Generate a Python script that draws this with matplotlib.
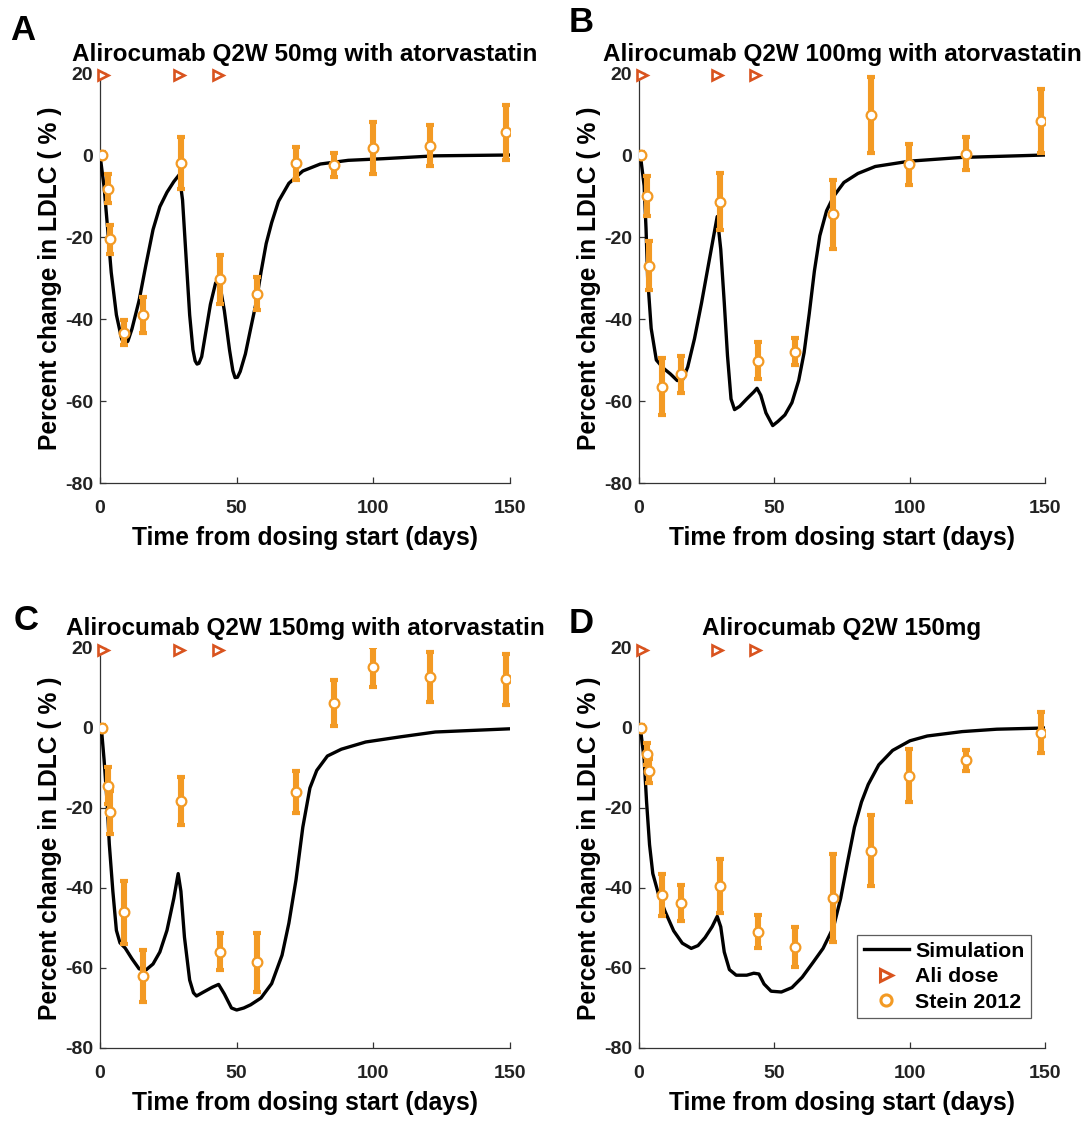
#!/usr/bin/env python3
"""
LDLC percent change after alirocumab Q2W dosing: simulation vs Stein 2012 data.
Writes out.png (4 panels, A-D).
"""
import matplotlib
matplotlib.use("Agg")
import matplotlib.pyplot as plt
from matplotlib.lines import Line2D

plt.rcParams["font.family"] = ["Liberation Sans", "DejaVu Sans"]
plt.rcParams["font.weight"] = "bold"
plt.rcParams["axes.labelweight"] = "bold"
plt.rcParams["axes.titleweight"] = "bold"
plt.rcParams["axes.unicode_minus"] = False

# ---- data ---------------------------------------------------------------
DOSE_DAYS = [1, 29, 43]
DOSE_LEVEL = [19.5, 19.5, 19.5]

OBS_DAYS = [0.6, 2.8, 3.8, 8.6, 15.7, 29.8, 43.8, 57.6, 71.8, 85.7, 99.7, 120.8, 148.6]

# panel A: 50 mg + atorvastatin
A_sim_t = [0, 1.5, 2.8, 4.1, 6, 7.9, 8.6, 9.2, 10.2, 11.7, 14.3, 16.8, 19.4, 21.9, 24.5,
           27, 29, 30.2, 31.5, 32.8, 34, 34.8, 35.5, 36.2, 37.2, 38.5, 40.4, 42.3, 43.6,
           45.5, 47.4, 48.6, 49.4, 50.3, 51.3, 53.2, 55.1, 57, 58.9, 60.8, 62.8, 65.3,
           69.1, 74.2, 80.6, 90.8, 103.6, 122.7, 150]
A_sim_v = [0, -7.8, -18, -28.6, -39, -44.8, -45.8, -46, -45.4, -42.4, -35.5, -26.8, -18.2,
           -12.6, -9.1, -6.5, -4.8, -11, -25, -39, -47.5, -50.2, -51, -50.8, -49.2, -44,
           -36.4, -31.2, -30.7, -38, -47.6, -52.6, -54.3, -54.2, -52.8, -48.5, -42.4,
           -36.4, -28.6, -21.6, -16.5, -11.3, -6.9, -3.9, -2.2, -1.3, -0.9, -0.2, 0]
A_obs = [0, -8.2, -20.6, -43.3, -39, -2, -30.3, -33.8, -2, -2.4, 1.7, 2.2, 5.6]
A_err = [0.8, 3.5, 3.5, 3, 4.3, 6.3, 6, 4, 4, 3, 6.3, 5, 6.7]

# panel B: 100 mg + atorvastatin
B_sim_t = [0.5, 1.9, 2.6, 3.2, 4.5, 6.4, 9, 11.6, 14.1, 16, 18, 20.5, 23.1, 25.7, 27.6,
           28.9, 30.2, 31.5, 32.7, 34, 35.3, 37.2, 39.8, 42.4, 43.6, 45, 46.9, 49.4, 51.3,
           53.9, 56.5, 59, 61, 62.9, 64.8, 66.8, 69.3, 71.9, 75.7, 80.9, 87.3, 100, 119, 150]
B_sim_v = [0, -7.5, -18, -30, -42.3, -50, -52, -53.4, -55, -55, -51.7, -44.8, -36.1, -26.6,
           -19.7, -15, -23, -36, -49, -59.5, -62.1, -61.3, -59.5, -57.8, -56.9, -58.6,
           -62.9, -66, -65, -63.4, -60.4, -55, -48.2, -38.7, -28.3, -19.7, -13.6, -10.1,
           -6.7, -4.5, -2.8, -1.5, -0.6, 0]
B_obs = [0, -10, -27, -56.5, -53.5, -11.4, -50.2, -48, -14.5, 9.8, -2.3, 0.3, 8.3]
B_err = [0.8, 4.8, 6, 7, 4.5, 7, 4.5, 3.3, 8.4, 9.3, 5, 4, 7.8]

# panel C: 150 mg + atorvastatin
C_sim_t = [0.5, 1.5, 2.6, 3.4, 4.7, 6, 7.3, 9.2, 11.7, 14.3, 16.8, 19.4, 21.9, 24.5, 27,
           28.6, 29.6, 30.9, 32.8, 34.2, 35.3, 37.9, 41.1, 43.4, 45.5, 48.1, 50, 52.6, 55.1,
           58.9, 62.8, 66.6, 69.1, 71.7, 74.2, 76.8, 79.3, 83.2, 88.3, 97.2, 110, 122.7, 150]
C_sim_v = [0, -8, -18.6, -29, -40.8, -50.6, -53.7, -55, -57.7, -60.2, -60.5, -59, -56,
           -50.6, -42.6, -36.4, -40.8, -52.3, -63, -66.2, -67, -66, -64.8, -64.1, -66.5,
           -70, -70.5, -70, -69.2, -67.5, -63.9, -56.8, -48.8, -38, -24.8, -15, -10.6, -7,
           -5.3, -3.5, -2.2, -1, -0.2]
C_obs = [0, -14.4, -21.1, -46.1, -62, -18.3, -55.9, -58.6, -16, 6.2, 15.3, 12.7, 12.2]
C_err = [0.8, 4.6, 5.3, 7.8, 6.4, 6, 4.6, 7.3, 5.3, 5.8, 5, 6.2, 6.4]

# panel D: 150 mg monotherapy
D_sim_t = [0.5, 1.9, 2.8, 3.9, 5.1, 7.1, 9.6, 12.8, 16, 19.3, 21.8, 24.4, 27, 28.9, 30.2,
           31.5, 33.4, 35.9, 39.8, 42.4, 44.3, 46.2, 48.8, 52.6, 56.5, 60.3, 64.2, 68,
           71.9, 74.5, 77, 79.6, 82.2, 84.7, 88.6, 93.7, 100.1, 106.5, 119.4, 132.2, 150]
D_sim_v = [0, -7.8, -18.5, -29.2, -36.4, -41.3, -45.8, -50.7, -53.8, -55.1, -54.4, -52.4,
           -49.7, -47.1, -49.7, -56, -60.4, -61.8, -61.8, -61.3, -61.5, -64, -65.8, -66,
           -64.9, -62.3, -58.7, -55.1, -49.7, -42.6, -33.7, -24.8, -18.5, -14.1, -9.2,
           -5.6, -3.2, -2, -0.9, -0.3, 0]
D_obs = [0, -6.5, -10.8, -41.7, -43.7, -39.5, -50.9, -54.8, -42.4, -30.7, -11.9, -8.1, -1.2]
D_err = [0.8, 2.7, 3, 5.2, 4.5, 6.7, 4.2, 5, 11, 8.9, 6.7, 2.7, 5.1]

X_TICKS = [0, 50, 100, 150]
Y_TICKS = [-80, -60, -40, -20, 0, 20]

SIM_COLOR = "black"
DOSE_COLOR = "#D9531E"
OBS_COLOR = "#F39A24"
AXIS_COLOR = "#333333"

W, H = 1091, 1136


def _rect(left, top, right, bottom):
    # pixel box -> figure fraction
    return [left / W, 1 - bottom / H, (right - left) / W, (bottom - top) / H]


def draw_panel(fig, rect, letter, letter_xy, title, sim_t, sim_v, obs, err, legend=False):
    ax = fig.add_axes(rect)
    ax.plot(sim_t, sim_v, color=SIM_COLOR, lw=2.4, zorder=3, solid_joinstyle="round")
    ax.errorbar(OBS_DAYS, obs, yerr=err, fmt="none", ecolor=OBS_COLOR,
                elinewidth=4.4, capsize=3, capthick=3, zorder=4)
    ax.plot(OBS_DAYS, obs, "o", mfc="white", mec=OBS_COLOR, ms=7, mew=1.6, zorder=5)
    ax.plot(DOSE_DAYS, DOSE_LEVEL, ">", mfc="white", mec=DOSE_COLOR, ms=7,
            mew=1.9, zorder=6, clip_on=False)

    ax.set_xlim(0, 150)
    ax.set_ylim(-80, 20)
    ax.set_xticks(X_TICKS)
    ax.set_yticks(Y_TICKS)
    for side in ("top", "right"):
        ax.spines[side].set_visible(False)
    for side in ("left", "bottom"):
        ax.spines[side].set_color(AXIS_COLOR)
        ax.spines[side].set_linewidth(0.9)
    ax.tick_params(direction="in", length=4, width=0.9, color=AXIS_COLOR,
                   labelsize=14, labelcolor="#222222")
    ax.tick_params(axis="x", pad=12)
    ax.tick_params(axis="y", pad=5)
    ax.set_xlabel("Time from dosing start (days)", fontsize=17.7, labelpad=7)
    ax.set_ylabel("Percent change in LDLC ( % )", fontsize=17.7, labelpad=2)
    ax.set_title(title, fontsize=17.5, pad=9)
    fig.text(letter_xy[0] / W, 1 - letter_xy[1] / H, letter, fontsize=25,
             fontweight="bold", ha="left", va="top")

    if legend:
        handles = [
            Line2D([], [], color=SIM_COLOR, lw=2.4),
            Line2D([], [], ls="none", marker=">", mfc="white", mec=DOSE_COLOR, ms=8, mew=2.2),
            Line2D([], [], ls="none", marker="o", mfc="white", mec=OBS_COLOR, ms=8, mew=2.2),
        ]
        leg = ax.legend(handles, ["Simulation", "Ali dose", "Stein 2012"],
                        loc="lower right", bbox_to_anchor=(0.965, 0.075),
                        fontsize=15.4, frameon=True, fancybox=False,
                        handlelength=2.1, handletextpad=0.3, borderpad=0.3,
                        labelspacing=0.3, borderaxespad=0)
        leg.get_frame().set_edgecolor("#333333")
        leg.get_frame().set_linewidth(0.9)
    return ax


def main():
    fig = plt.figure(figsize=(W / 100, H / 100), dpi=100)
    draw_panel(fig, _rect(100, 73, 510, 483), "A", (10, 14),
               "Alirocumab Q2W 50mg with atorvastatin", A_sim_t, A_sim_v, A_obs, A_err)
    draw_panel(fig, _rect(639, 73, 1045, 483), "B", (569, 6),
               "Alirocumab Q2W 100mg with atorvastatin", B_sim_t, B_sim_v, B_obs, B_err)
    draw_panel(fig, _rect(100, 648, 510, 1048), "C", (14, 604),
               "Alirocumab Q2W 150mg with atorvastatin", C_sim_t, C_sim_v, C_obs, C_err)
    draw_panel(fig, _rect(639, 648, 1045, 1048), "D", (569, 607),
               "Alirocumab Q2W 150mg", D_sim_t, D_sim_v, D_obs, D_err, legend=True)
    fig.savefig("out.png", dpi=100)
    plt.close(fig)


if __name__ == "__main__":
    main()
